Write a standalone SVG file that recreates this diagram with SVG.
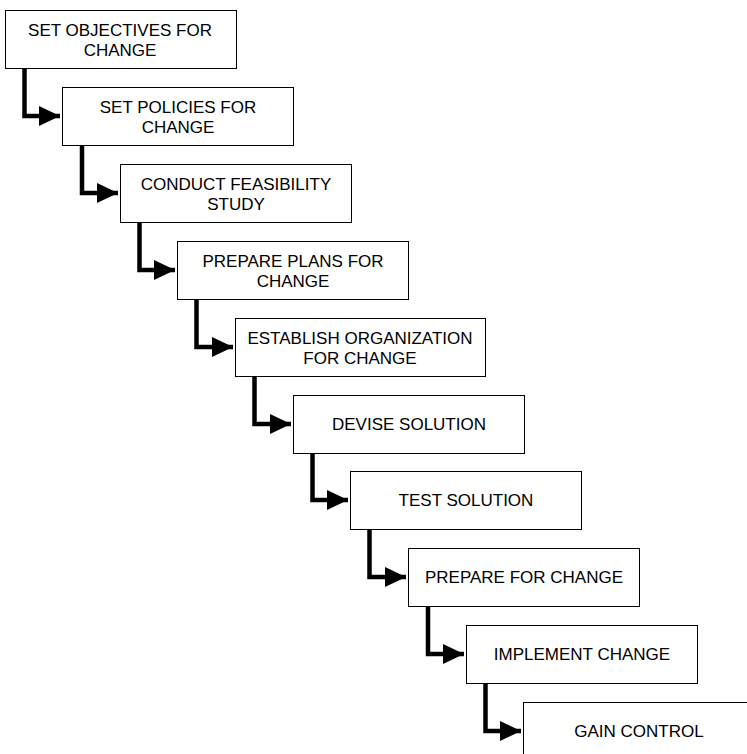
<svg xmlns="http://www.w3.org/2000/svg" width="747" height="754" viewBox="0 0 747 754">
<defs>
<style>
.box{fill:#fff;stroke:#000;stroke-width:1}
.t{font-family:"Liberation Sans",Arial,sans-serif;font-size:17px;text-anchor:middle;fill:#000}
.c{fill:none;stroke:#000;stroke-width:4.5;stroke-linejoin:miter}
</style>
<marker id="ah" markerUnits="userSpaceOnUse" markerWidth="22" markerHeight="22" refX="21" refY="10" orient="auto">
<path d="M0,0 L21,10 L0,20 Z" fill="#000"/>
</marker>
</defs>
<rect width="747" height="754" fill="#fff"/>
<g id="connectors">
<path class="c" d="M24.5,68 V116 H60" marker-end="url(#ah)"/>
<path class="c" d="M82,145 V193 H118" marker-end="url(#ah)"/>
<path class="c" d="M139.5,222 V270 H175" marker-end="url(#ah)"/>
<path class="c" d="M196.5,299 V347 H233" marker-end="url(#ah)"/>
<path class="c" d="M254.5,376 V424 H291" marker-end="url(#ah)"/>
<path class="c" d="M312.5,453 V500 H348" marker-end="url(#ah)"/>
<path class="c" d="M369.5,529 V577 H406" marker-end="url(#ah)"/>
<path class="c" d="M428,606 V654 H464" marker-end="url(#ah)"/>
<path class="c" d="M485.5,683 V731 H521" marker-end="url(#ah)"/>
</g>
<g id="n1"><rect class="box" x="5.5" y="10.5" width="231" height="58"/><text class="t" x="120" y="35.5">SET OBJECTIVES FOR</text><text class="t" x="120" y="55.5">CHANGE</text></g>
<g id="n2"><rect class="box" x="62.5" y="87.5" width="231" height="58"/><text class="t" x="178" y="112.5">SET POLICIES FOR</text><text class="t" x="178" y="132.5">CHANGE</text></g>
<g id="n3"><rect class="box" x="120.5" y="164.5" width="231" height="58"/><text class="t" x="236" y="189.5">CONDUCT FEASIBILITY</text><text class="t" x="236" y="209.5">STUDY</text></g>
<g id="n4"><rect class="box" x="177.5" y="241.5" width="231" height="58"/><text class="t" x="293" y="266.5">PREPARE PLANS FOR</text><text class="t" x="293" y="286.5">CHANGE</text></g>
<g id="n5"><rect class="box" x="235.5" y="318.5" width="250" height="58"/><text class="t" x="360" y="343.5">ESTABLISH ORGANIZATION</text><text class="t" x="360" y="363.5">FOR CHANGE</text></g>
<g id="n6"><rect class="box" x="293.5" y="395.5" width="231" height="58"/><text class="t" x="409" y="430">DEVISE SOLUTION</text></g>
<g id="n7"><rect class="box" x="350.5" y="471.5" width="231" height="58"/><text class="t" x="466" y="506">TEST SOLUTION</text></g>
<g id="n8"><rect class="box" x="408.5" y="548.5" width="231" height="58"/><text class="t" x="524" y="583">PREPARE FOR CHANGE</text></g>
<g id="n9"><rect class="box" x="466.5" y="625.5" width="231" height="58"/><text class="t" x="582" y="659.5">IMPLEMENT CHANGE</text></g>
<g id="n10"><rect class="box" x="523.5" y="702.5" width="240" height="58"/><text class="t" x="639" y="737">GAIN CONTROL</text></g>
</svg>
